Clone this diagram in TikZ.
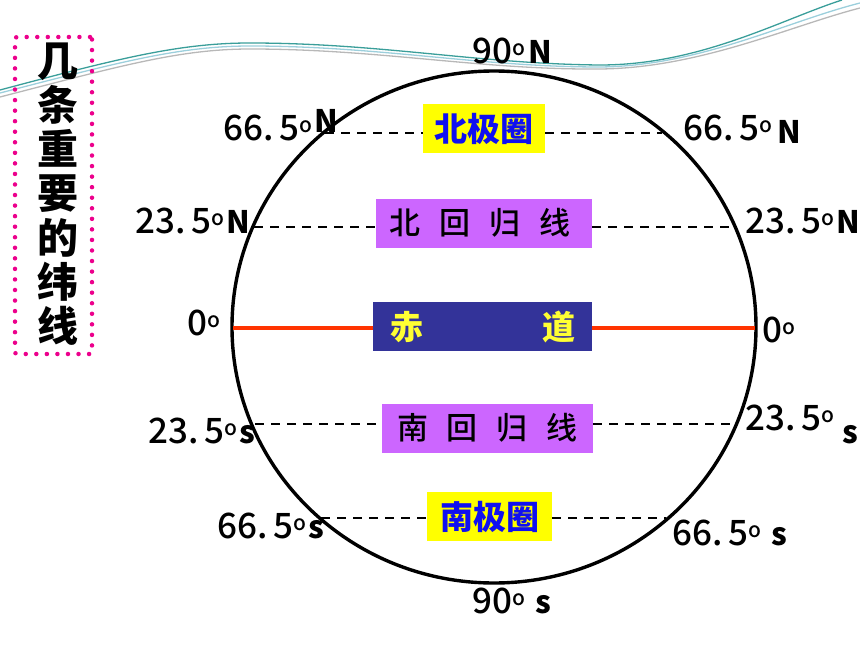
\documentclass[tikz,border=0pt]{standalone}
\usepackage{fontspec}
\setmainfont{Noto Sans CJK SC}
\newfontfamily\medfont{Noto Sans CJK SC Medium}
\definecolor{capyel}{HTML}{FFFF00}
\definecolor{capblue}{HTML}{1010F0}
\definecolor{tropic}{HTML}{CC66FF}
\definecolor{eqbox}{HTML}{333399}
\definecolor{eqtext}{HTML}{FFFF33}
\definecolor{eqline}{HTML}{FF3300}
\definecolor{wave1}{HTML}{3A9E9A}
\definecolor{wave2}{HTML}{9CCFDC}
\definecolor{wave3}{HTML}{B8B8B8}
\newcommand{\dg}{\raisebox{8pt}{\fontsize{21}{21}\selectfont\medfont o}}
\newcommand{\nm}[1]{{\fontsize{35}{35}\selectfont\medfont #1}}
\newcommand{\lt}[1]{{\fontsize{31}{31}\selectfont\bfseries #1}}
\tikzset{
  lab/.style={anchor=base west, inner sep=0pt, text=black},
  capbox/.style={fill=capyel, minimum width=122pt, minimum height=49pt, inner sep=0pt, text=capblue, font=\fontsize{33}{33}\selectfont\bfseries},
  tropbox/.style={fill=tropic, minimum height=49pt, inner sep=0pt, text=black, font=\fontsize{31}{31}\selectfont\medfont},
  eqnode/.style={fill=eqbox, minimum width=219pt, minimum height=49pt, inner sep=0pt, text=eqtext, font=\fontsize{33}{33}\selectfont\bfseries},
  latline/.style={line width=2.4pt, dash pattern=on 9pt off 7pt},
  waveline/.style={line width=1.3pt},
}
\begin{document}
\begin{tikzpicture}[x=1pt,y=-1pt]
\useasboundingbox (0,0) rectangle (860,645);
% decorative waves
\draw[waveline, wave3] (0,97) .. controls (120,66) and (180,49) .. (250,49) .. controls (380,49) and (480,70) .. (600,69) .. controls (700,68) and (790,26) .. (860,8);
\draw[waveline, wave2] (0,93) .. controls (120,62) and (180,46) .. (250,46) .. controls (380,46) and (480,67) .. (600,67) .. controls (700,66) and (785,22) .. (860,3);
\draw[waveline, wave1] (0,90) .. controls (120,58) and (180,43) .. (250,43) .. controls (380,43) and (480,64) .. (600,65) .. controls (700,65) and (780,20) .. (842,0);

% title
\node[draw=magenta, line width=4.5pt, dash pattern=on 0pt off 10.55pt, line cap=round, rounded corners=2pt,
      minimum width=77pt, minimum height=317pt, inner sep=0pt] (titlebox) at (53.5,195.5) {};
\node[align=center, inner sep=0pt, font=\fontsize{41}{44.2}\selectfont\bfseries] (title) at (58,194) {几\\条\\重\\要\\的\\纬\\线};

% globe
\draw[line width=3.4pt] (494,327) ellipse [x radius=262, y radius=256];

% boxes
\node[capbox] (npc) at (484,128.5) {北极圈};
\node[tropbox, minimum width=216pt] (ntr) at (484,223) {\hspace{-8pt}北\hspace{19pt}回\hspace{19pt}归\hspace{19pt}线};
\node[eqnode] (eq) at (482.5,326.5) {赤\hspace{119pt}道};
\node[tropbox, minimum width=211pt] (str) at (487.5,428) {南\hspace{19pt}回\hspace{19pt}归\hspace{19pt}线};
\node[capbox, minimum width=125pt] (spc) at (489.5,516.5) {南极圈};

% circle intersection points
\coordinate (a66nL) at (325,133);
\coordinate (a66nR) at (662,133);
\coordinate (a23nL) at (254,227);
\coordinate (a23nR) at (734,227);
\coordinate (eqL) at (233,328);
\coordinate (eqR) at (755,328);
\coordinate (a23sL) at (255,424);
\coordinate (a23sR) at (735,424);
\coordinate (a66sL) at (321,518);
\coordinate (a66sR) at (666,518);

\draw[latline] (a66nL) -- (a66nL -| npc.west);
\draw[latline] (npc.east |- a66nR) -- (a66nR);
\draw[latline] (a23nL) -- (a23nL -| ntr.west);
\draw[latline] (ntr.east |- a23nR) -- (a23nR);
\draw[line width=3.4pt, eqline] (eqL) -- (eqL -| eq.west);
\draw[line width=3.4pt, eqline] (eq.east |- eqR) -- (eqR);
\draw[latline] (a23sL) -- (a23sL -| str.west);
\draw[latline] (str.east |- a23sR) -- (a23sR);
\draw[latline] (a66sL) -- (a66sL -| spc.west);
\draw[latline] (spc.east |- a66sR) -- (a66sR);

% labels
\node[lab] (t90n) at (472,63) {\nm{90}\dg\hspace{3pt}\lt{N}};
\node[lab] (t90s) at (472,613) {\nm{90}\dg\hspace{10pt}\lt{s}};
\node[lab] (l66n) at (223,140) {\nm{66.\hspace{6pt}5}\dg\hspace{2pt}\raisebox{8pt}{\lt{N}}};
\node[lab] (r66n) at (683,140) {\nm{66.\hspace{6pt}5}\dg\hspace{5pt}\raisebox{-3pt}{\lt{N}}};
\node[lab] (l23n) at (135,233) {\nm{23.\hspace{6pt}5}\dg\hspace{2pt}\lt{N}};
\node[lab] (r23n) at (745,233) {\nm{23.\hspace{6pt}5}\dg\hspace{2pt}\lt{N}};
\node[lab] (l0) at (187,335) {\nm{0}\dg};
\node[lab] (r0) at (762,342) {\nm{0}\dg};
\node[lab] (l23s) at (148,443) {\nm{23.\hspace{6pt}5}\dg\hspace{2pt}\lt{s}};
\node[lab] (r23s) at (745,430) {\nm{23.\hspace{6pt}5}\dg\hspace{8pt}\raisebox{-13pt}{\lt{s}}};
\node[lab] (l66s) at (217,538) {\nm{66.\hspace{6pt}5}\dg\hspace{2pt}\lt{s}};
\node[lab] (r66s) at (672,545) {\nm{66.\hspace{6pt}5}\dg\hspace{10pt}\lt{s}};
\end{tikzpicture}
\end{document}
